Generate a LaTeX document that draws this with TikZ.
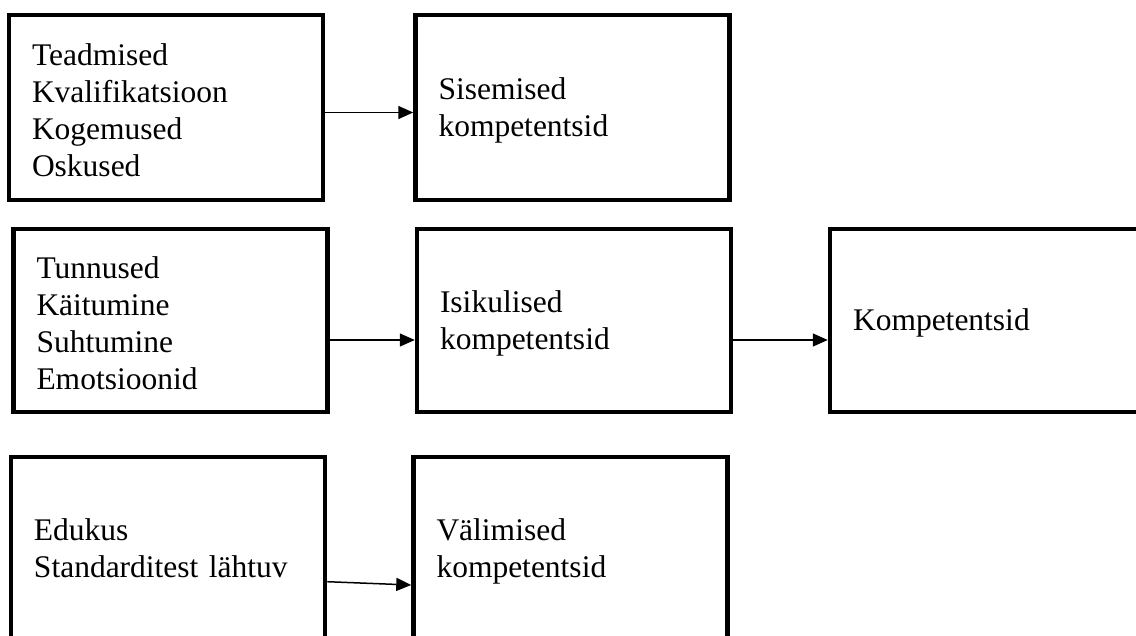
\documentclass[tikz,border=0pt]{standalone}
\usepackage{fontspec}
\setmainfont{Liberation Serif}
\usetikzlibrary{arrows.meta}

\begin{document}
\begin{tikzpicture}[x=1pt,y=-1pt,
  kast/.style={draw, line width=4.5pt, inner xsep=23pt, inner ysep=0pt,
    text width=268pt, align=left, minimum height=185pt,
    font=\fontsize{31.5}{37}\selectfont,
    execute at begin node={\rule{0pt}{27pt}}},
  nool/.style={-{Triangle[length=15pt,width=13pt]}, line width=1.5pt}]
\useasboundingbox (0,0) rectangle (1136,635);
\clip (0,0) rectangle (1136,635);
%% sisemised
\node[kast] (teadmised) at (166,107.5) {Teadmised\\Kvalifikatsioon\\Kogemused\\Oskused};
\node[kast] (sisemised) at (572.5,107.5) {Sisemised\\kompetentsid};
%% isikulised
\node[kast, minimum height=183pt] (tunnused) at (170.5,320.5) {Tunnused\\Käitumine\\Suhtumine\\Emotsioonid};
\node[kast, minimum height=183pt] (isikulised) at (574,320.5) {Isikulised\\kompetentsid};
\node[kast, minimum height=183pt] (kompetentsid) at (987,320.5) {Kompetentsid};
%% välimised (alt lõigatud)
\node[kast, minimum height=200pt, text depth=61pt] (edukus) at (168,557) {Edukus\\Standarditest lähtuv};
\node[kast, minimum height=200pt, text depth=61pt] (valimised) at (570.5,557) {Välimised\\kompetentsid};
%% nooled
\draw[nool] ([yshift=-5pt]teadmised.east) -- ([yshift=-5pt]sisemised.west);
\draw[nool] ([yshift=-19.5pt]tunnused.east) -- ([yshift=-19.5pt]isikulised.west);
\draw[nool] ([yshift=-19.5pt]isikulised.east) -- ([yshift=-19.5pt]kompetentsid.west);
\draw[nool] ([yshift=-24.7pt]edukus.east) -- ([yshift=-28pt]valimised.west);
\end{tikzpicture}
\end{document}
